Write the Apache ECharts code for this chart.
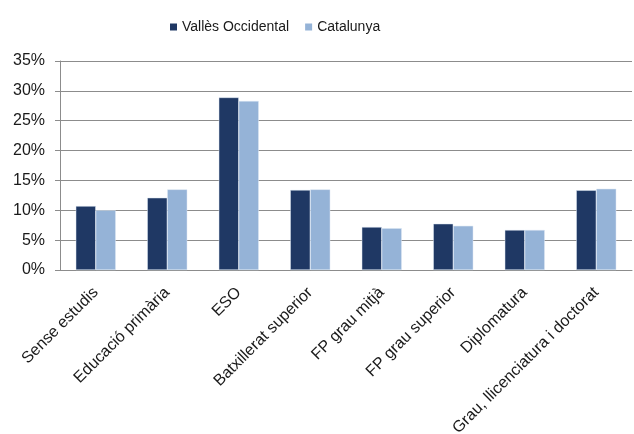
<!DOCTYPE html>
<html>
<head>
<meta charset="utf-8">
<script src="https://cdn.jsdelivr.net/npm/echarts@6/dist/echarts.min.js"></script>
<style>
    html, body { margin: 0; padding: 0; background: #fff; }
    #chart { width: 634px; height: 434px; }
</style>
</head>
<body>
<div id="chart"></div>
<script>
const categories = [
    'Sense estudis',
    'Educació primària',
    'ESO',
    'Batxillerat superior',
    'FP grau mitjà',
    'FP grau superior',
    'Diplomatura',
    'Grau, llicenciatura i doctorat'
];
const vallesValues = [10.7, 12.1, 28.9, 13.4, 7.2, 7.75, 6.7, 13.35];
const catalunyaValues = [10.0, 13.5, 28.3, 13.5, 7.0, 7.4, 6.7, 13.6];
const seriesNames = ['Vallès Occidental', 'Catalunya'];

const font = 'Liberation Sans, Arial, sans-serif';
const chart = echarts.init(document.getElementById('chart'));
chart.setOption({
    animation: false,
    color: ['#1f3864', '#95b3d7'],
    legend: {
        data: seriesNames,
        top: 15,
        left: 165,
        itemWidth: 7,
        itemHeight: 7,
        itemGap: 16,
        icon: 'rect',
        itemStyle: { borderWidth: 0 },
        textStyle: {
            fontFamily: font,
            fontSize: 14,
            color: '#1a1a1a'
        }
    },
    grid: {
        left: 60,
        right: 2,
        top: 61,
        bottom: 164,
        containLabel: false,
        outerBoundsMode: 'none'
    },
    xAxis: {
        type: 'category',
        data: categories,
        axisLine: { lineStyle: { color: '#8c8c8c' } },
        axisTick: { length: 5, lineStyle: { color: '#8c8c8c' } },
        axisLabel: {
            rotate: 45,
            interval: 0,
            margin: 20,
            fontFamily: font,
            fontSize: 16,
            color: '#1a1a1a'
        }
    },
    yAxis: {
        type: 'value',
        min: 0,
        max: 35,
        interval: 5,
        axisLine: { show: true, lineStyle: { color: '#8c8c8c' } },
        axisTick: { show: true, length: 5, lineStyle: { color: '#8c8c8c' } },
        splitLine: { lineStyle: { color: '#8c8c8c' } },
        axisLabel: {
            formatter: '{value}%',
            margin: 15,
            fontFamily: font,
            fontSize: 16,
            color: '#1a1a1a'
        }
    },
    series: [
        {
            name: seriesNames[0],
            type: 'bar',
            data: vallesValues,
            barWidth: 20,
            barGap: '0%',
            itemStyle: { borderColor: '#dce6f2', borderWidth: 0.5 }
        },
        {
            name: seriesNames[1],
            type: 'bar',
            data: catalunyaValues,
            barWidth: 20,
            barGap: '0%',
            itemStyle: { borderColor: '#dce6f2', borderWidth: 0.5 }
        }
    ]
});
</script>
</body>
</html>
